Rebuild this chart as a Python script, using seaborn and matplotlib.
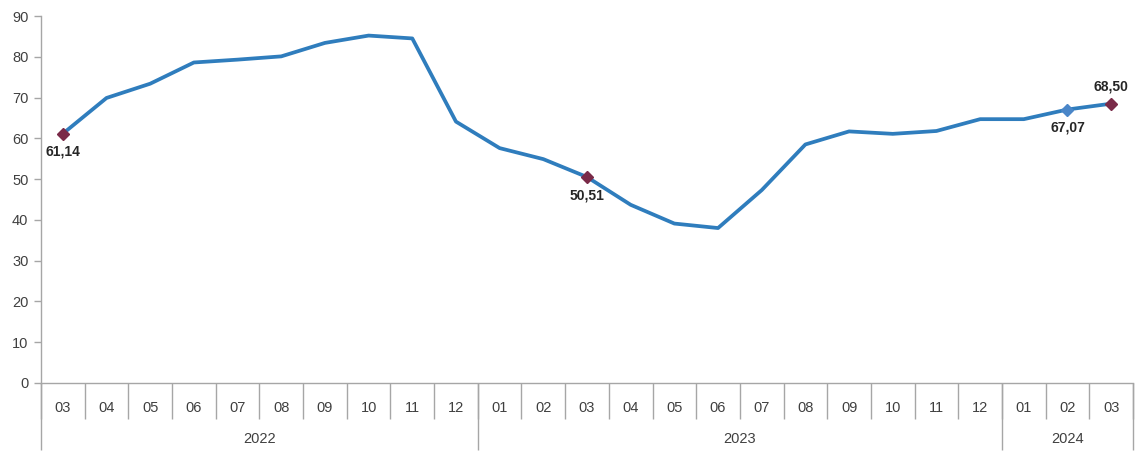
import numpy as np
import pandas as pd
import matplotlib
matplotlib.use("Agg")
import matplotlib.pyplot as plt
import seaborn as sns

# Data
months = ['03', '04', '05', '06', '07', '08', '09', '10', '11', '12',
          '01', '02', '03', '04', '05', '06', '07', '08', '09', '10', '11', '12',
          '01', '02', '03']
years = ['2022', '2023', '2024']
months_per_year = [10, 12, 3]
values = [61.14, 69.9, 73.4, 78.6, 79.3, 80.1, 83.4, 85.2, 84.5, 64.1,
          57.6, 54.9, 50.51, 43.7, 39.1, 38.0, 47.3, 58.5, 61.7, 61.1, 61.8, 64.7,
          64.7, 67.07, 68.50]
# labelled points: index, label text, placement
labelled = [0, 12, 23, 24]
label_pos = ['below', 'below', 'below', 'above']

df = pd.DataFrame({'pos': np.arange(len(values)), 'value': values})

sns.set_theme(style="white")
plt.rcParams['font.family'] = ['Liberation Sans', 'DejaVu Sans']

grey = '#a6a6a6'
txt_col = '#404040'
fig = plt.figure(figsize=(11.35, 4.54), dpi=100)
ax = fig.add_axes([41 / 1135, 1 - 383 / 454, (1133 - 41) / 1135, (383 - 16) / 454])

sns.lineplot(data=df, x='pos', y='value', ax=ax, color='#2f7dbd', linewidth=2.7)

# highlighted points
for i, where in zip(labelled, label_pos):
    col = '#4a86c8' if i == 23 else '#7a2a48'
    ax.plot(df['pos'][i], df['value'][i], marker='D', markersize=6.5, color=col,
            markeredgecolor=col, zorder=5)
    txt = f"{values[i]:.2f}".replace('.', ',')
    dy = -8 if where == 'below' else 7
    ax.annotate(txt, (df['pos'][i], df['value'][i]), xytext=(0, dy),
                textcoords='offset points', ha='center',
                va='top' if where == 'below' else 'bottom',
                fontsize=10, fontweight='bold', color='#262626')

ax.set_ylim(0, 90)
ax.set_yticks(range(0, 91, 10))
ax.set_xlim(-0.5, len(values) - 0.5)
ax.set_xlabel('')
ax.set_ylabel('')

for s in ['top', 'right']:
    ax.spines[s].set_visible(False)
for s in ['left', 'bottom']:
    ax.spines[s].set_color(grey)
    ax.spines[s].set_linewidth(1.0)

ax.tick_params(axis='y', which='major', direction='out', length=5, width=1,
               color=grey, labelsize=10.5, labelcolor=txt_col, pad=4, left=True)

# month labels at centers, separators at boundaries
ax.set_xticks(np.arange(len(values)))
ax.set_xticklabels(months)
ax.set_xticks(np.arange(len(values) + 1) - 0.5, minor=True)
ax.tick_params(axis='x', which='major', length=0, pad=13, labelsize=10.5,
               labelcolor=txt_col, bottom=True)
ax.tick_params(axis='x', which='minor', direction='out', length=26, width=1,
               color=grey, bottom=True)

# year labels and longer separators
bounds = np.concatenate([[0], np.cumsum(months_per_year)]) - 0.5
centers = (bounds[:-1] + bounds[1:]) / 2
sec = ax.secondary_xaxis('bottom')
sec.set_xticks(bounds)
sec.set_xticklabels([''] * len(bounds))
sec.set_xticks(centers, minor=True)
sec.set_xticklabels(years, minor=True)
sec.tick_params(axis='x', which='major', direction='out', length=48, width=1,
                color=grey)
sec.tick_params(axis='x', which='minor', length=0, pad=35, labelsize=10.5,
                labelcolor=txt_col)
sec.spines['bottom'].set_visible(False)

fig.savefig('out.png', dpi=100, facecolor='white')
